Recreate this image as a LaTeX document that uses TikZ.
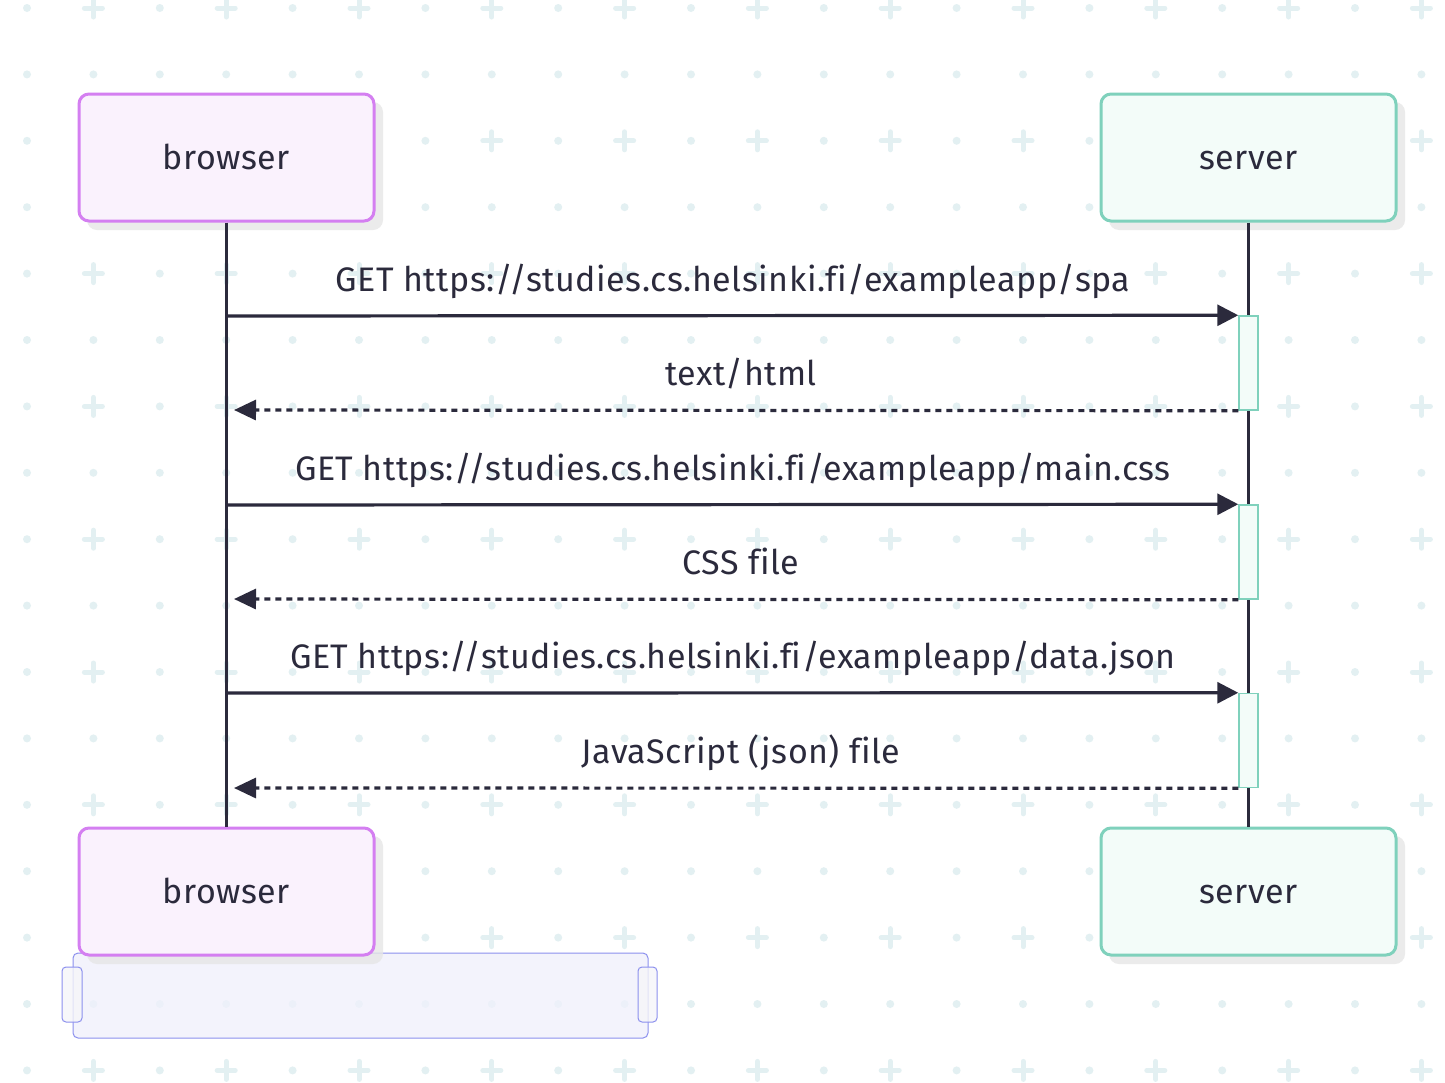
\documentclass[tikz,border=0pt]{standalone}
\usepackage{fontspec}
\setmainfont{Fira Sans}[Ligatures={NoCommon}, LetterSpace=1.5]
\usetikzlibrary{arrows.meta}
\definecolor{gridc}{HTML}{E3F0F2}
\definecolor{bline}{HTML}{D47FF1}
\definecolor{bfill}{HTML}{FAF2FD}
\definecolor{sline}{HTML}{7FD1BC}
\definecolor{sfill}{HTML}{F3FCF9}
\definecolor{ink}{HTML}{2B2A3C}
\definecolor{shadowc}{HTML}{E6E6E6}
\definecolor{rfill}{HTML}{F0F0FC}
\definecolor{rline}{HTML}{8C90EE}
\definecolor{hfill}{HTML}{F6F6F9}
\tikzset{
  actor/.style={rounded corners=10pt, line width=3pt, minimum width=295pt, minimum height=127pt,
    text height=23pt, text depth=0pt, font=\fontsize{34}{40}\selectfont, text=ink},
  bactor/.style={actor, draw=bline, fill=bfill},
  sactor/.style={actor, draw=sline, fill=sfill},
  actshadow/.style={fill=shadowc, fill opacity=0.8, rounded corners=10pt},
  life/.style={draw=ink, line width=3.2pt},
  actbox/.style={draw=sline, fill=sfill, line width=1.5pt, minimum width=19pt, minimum height=94pt, inner sep=0pt},
  req/.style={draw=ink, line width=3.2pt, -{Triangle[length=21pt,width=21pt]}},
  resp/.style={draw=ink, line width=3.2pt, dash pattern=on 6pt off 5pt, -{Triangle[length=22pt,width=20pt]}},
  msglabel/.style={font=\fontsize{34}{40}\selectfont, text=ink, anchor=base, inner sep=0pt},
}
\begin{document}
\begin{tikzpicture}[x=1pt,y=-1pt]
\useasboundingbox (0,0) rectangle (1445,1082);
\fill[white] (0,0) rectangle (1445,1082);
% background pattern
\foreach \i in {0,...,21}{
  \foreach \j in {0,...,16}{
    \pgfmathsetmacro\xx{27+66.4*\i}
    \pgfmathsetmacro\yy{8+66.4*\j}
    \ifodd\j
      \fill[gridc] (\xx,\yy) circle[radius=4pt];
    \else
      \ifodd\i
        \draw[gridc, line width=5pt, line cap=round] (\xx-9,\yy) -- (\xx+9,\yy) (\xx,\yy-9) -- (\xx,\yy+9);
      \else
        \fill[gridc] (\xx,\yy) circle[radius=4pt];
      \fi
    \fi
  }
}
% bottom bar
\node[draw=rline, fill=rfill, fill opacity=0.75, line width=1pt, rounded corners=5pt, minimum width=575pt, minimum height=85pt, inner sep=0pt] (bar) at (360.5,995.5) {};
\node[draw=rline, fill=hfill, fill opacity=0.8, line width=1pt, rounded corners=4pt, minimum width=20pt, minimum height=55pt, inner sep=0pt] (hl) at (72,994.5) {};
\node[draw=rline, fill=hfill, fill opacity=0.8, line width=1pt, rounded corners=4pt, minimum width=19pt, minimum height=55pt, inner sep=0pt] (hr) at (647.5,994.5) {};
% shadows
\fill[actshadow] (87,102) rectangle (383,230);
\fill[actshadow] (1109,102) rectangle (1405,230);
\fill[actshadow] (87,836) rectangle (383,964);
\fill[actshadow] (1109,836) rectangle (1405,964);
% actors
\node[bactor] (bt) at (226.5,157.5) {browser};
\node[sactor] (st) at (1248.5,157.5) {server};
\node[bactor] (bb) at (226.5,891.5) {browser};
\node[sactor] (sb) at (1248.5,891.5) {server};
% lifelines
\draw[life] (bt.south) -- (bb.north);
\draw[life] (st.south) -- (sb.north);
% activations
\node[actbox] (a1) at (1248.5,363) {};
\node[actbox] (a2) at (1248.5,552) {};
\node[actbox] (a3) at (1248.5,740.5) {};
% message endpoints on browser lifeline
\coordinate (m1) at (227,316);
\coordinate (r1) at (234,410);
\coordinate (m2) at (227,505);
\coordinate (r2) at (234,599);
\coordinate (m3) at (227,693);
\coordinate (r3) at (234,788);
% messages
\draw[req] (m1) -- (a1.north west);
\draw[resp] (a1.south west) -- (r1);
\draw[req] (m2) -- (a2.north west);
\draw[resp] (a2.south west) -- (r2);
\draw[req] (m3) -- (a3.north west);
\draw[resp] (a3.south west) -- (r3);
% labels
\node[msglabel] (l1) at (733,291) {GET https://studies.cs.helsinki.fi/exampleapp/spa};
\node[msglabel] (l2) at (741,385) {text/html};
\node[msglabel] (l3) at (733,480) {GET https://studies.cs.helsinki.fi/exampleapp/main.css};
\node[msglabel] (l4) at (741,574) {CSS file};
\node[msglabel] (l5) at (733,668) {GET https://studies.cs.helsinki.fi/exampleapp/data.json};
\node[msglabel] (l6) at (741,763) {JavaScript (json) file};
\end{tikzpicture}
\end{document}
